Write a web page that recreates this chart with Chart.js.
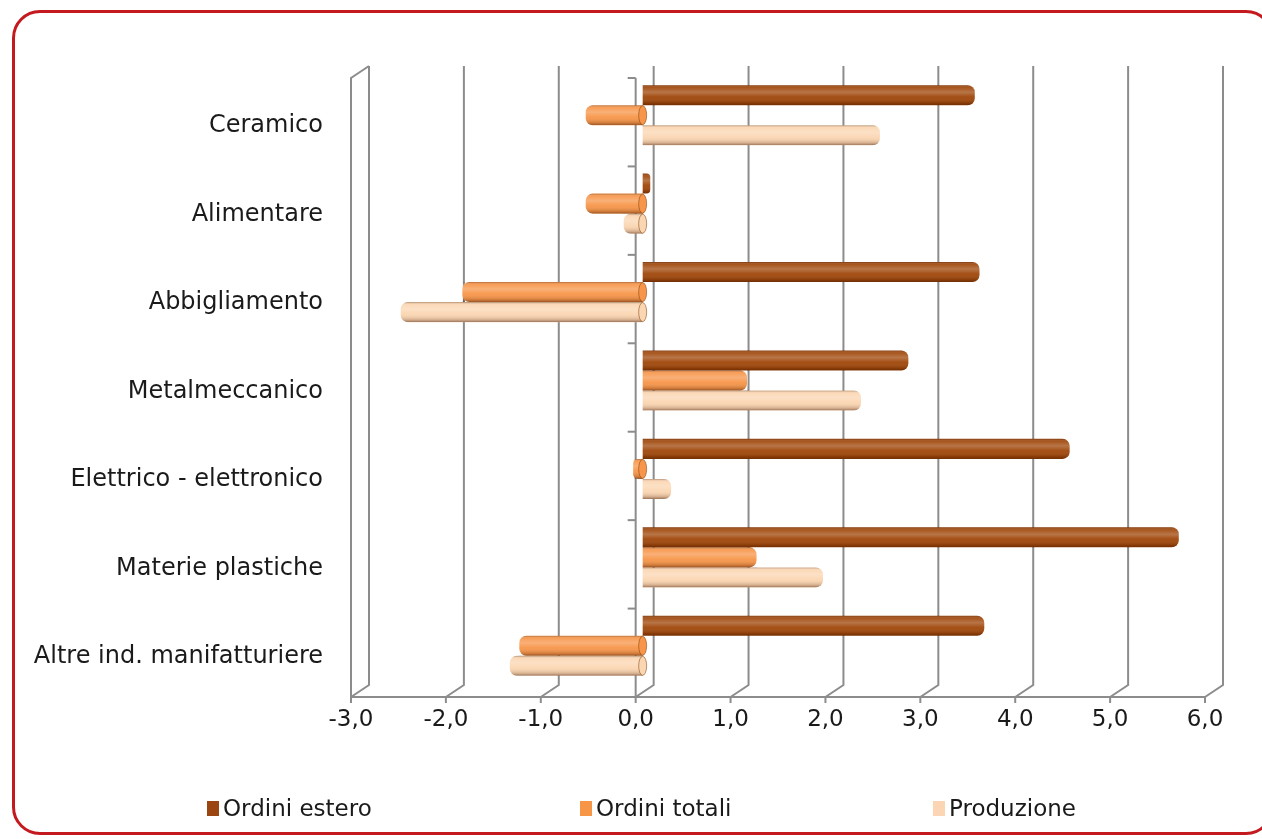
<!DOCTYPE html>
<html>
<head>
<meta charset="utf-8">
<script src="https://cdn.jsdelivr.net/npm/chart.js@4.4.1/dist/chart.umd.min.js"></script>
<style>
  html, body { margin: 0; padding: 0; background: #ffffff; width: 1262px; height: 839px; overflow: hidden; }
  #frame { position: absolute; left: 12px; top: 10px; width: 1262px; height: 825px; border: 3px solid #c41a1f; border-radius: 28px; box-sizing: border-box; }
  #wrap { position: absolute; left: 0; top: 0; width: 1262px; height: 839px; }
  #legend { position: absolute; top: 791px; left: 0; width: 1262px; height: 34px; font-family: 'DejaVu Sans', sans-serif; font-size: 23px; color: #1a1a1a; }
  .item { position: absolute; top: 0; display: flex; align-items: center; height: 34px; }
  .box { width: 12px; height: 15px; margin-right: 4px; }
</style>
</head>
<body>
<div id="frame"></div>
<div id="wrap"><canvas id="c" width="1262" height="839"></canvas></div>
<div id="legend"></div>
<script>
// ---- data ----
const categories = ['Ceramico', 'Alimentare', 'Abbigliamento', 'Metalmeccanico', 'Elettrico - elettronico', 'Materie plastiche', 'Altre ind. manifatturiere'];
const ordiniEstero = [3.5, 0.08, 3.55, 2.8, 4.5, 5.65, 3.6];
const ordiniTotali = [-0.6, -0.6, -1.9, 1.1, -0.1, 1.2, -1.3];
const produzione = [2.5, -0.2, -2.55, 2.3, 0.3, 1.9, -1.4];
const seriesNames = ['Ordini estero', 'Ordini totali', 'Produzione'];
const xTickValues = [-3, -2, -1, 0, 1, 2, 3, 4, 5, 6];

const seriesColors = ['#a0470a', '#f7964a', '#fbd6b2'];
const legendColors = ['#9b4510', '#f79646', '#fcd5b4'];
const FONT = "'DejaVu Sans', sans-serif";

// 3D depth offsets
const DEPTH_X = 18, DEPTH_Y = -12;
const BAR_DX = 7, BAR_DY = -7;
const GRID = '#8c8c8c';

const grid3d = {
  id: 'grid3d',
  beforeDatasetsDraw(chart) {
    const ctx = chart.ctx, xs = chart.scales.x, a = chart.chartArea;
    ctx.save();
    ctx.strokeStyle = GRID;
    ctx.lineWidth = 2;
    xTickValues.forEach(v => {
      const xf = xs.getPixelForValue(v);
      ctx.beginPath();
      ctx.moveTo(xf + DEPTH_X, a.top + DEPTH_Y);
      ctx.lineTo(xf + DEPTH_X, a.bottom + DEPTH_Y);
      ctx.lineTo(xf, a.bottom);
      ctx.stroke();
      ctx.beginPath();
      ctx.moveTo(xf, a.bottom);
      ctx.lineTo(xf, a.bottom + 6);
      ctx.stroke();
    });
    ctx.beginPath();
    ctx.moveTo(a.left, a.bottom);
    ctx.lineTo(a.right, a.bottom);
    ctx.stroke();
    ctx.beginPath();
    ctx.moveTo(a.left, a.bottom);
    ctx.lineTo(a.left, a.top);
    ctx.lineTo(a.left + DEPTH_X, a.top + DEPTH_Y);
    ctx.stroke();
    const x0 = xs.getPixelForValue(0);
    ctx.beginPath();
    ctx.moveTo(x0, a.top);
    ctx.lineTo(x0, a.bottom);
    ctx.stroke();
    const n = categories.length;
    for (let i = 0; i <= n; i++) {
      const y = a.top + i * (a.bottom - a.top) / n;
      ctx.beginPath();
      ctx.moveTo(x0 - 8, y);
      ctx.lineTo(x0, y);
      ctx.stroke();
    }
    ctx.restore();
    ctx.save();
    ctx.translate(BAR_DX, BAR_DY);
  },
  afterDatasetsDraw(chart) {
    const ctx = chart.ctx;
    chart.data.datasets.forEach((ds, di) => {
      const meta = chart.getDatasetMeta(di);
      meta.data.forEach(el => {
        const p = el.getProps(['x', 'y', 'base', 'height'], true);
        const top = p.y - p.height / 2;
        const left = Math.min(p.x, p.base) - 1, w = Math.abs(p.x - p.base) + 2;
        const g = ctx.createLinearGradient(0, top, 0, top + p.height);
        g.addColorStop(0, 'rgba(60,20,0,0.40)');
        g.addColorStop(0.12, 'rgba(255,255,255,0.08)');
        g.addColorStop(0.35, 'rgba(255,255,255,0.25)');
        g.addColorStop(0.6, 'rgba(255,255,255,0.04)');
        g.addColorStop(0.88, 'rgba(60,20,0,0.20)');
        g.addColorStop(1, 'rgba(60,20,0,0.50)');
        ctx.save();
        ctx.globalCompositeOperation = 'source-atop';
        ctx.fillStyle = g;
        ctx.fillRect(left, top, w, p.height);
        ctx.restore();
        if (p.x < p.base) {
          // visible cap at the zero end of negative bars
          ctx.save();
          ctx.fillStyle = ds.backgroundColor;
          ctx.strokeStyle = 'rgba(120,55,0,0.5)';
          ctx.lineWidth = 1;
          ctx.beginPath();
          ctx.ellipse(p.base, p.y, 4, p.height / 2 - 0.5, 0, 0, Math.PI * 2);
          ctx.fill();
          ctx.stroke();
          ctx.restore();
        }
      });
    });
    ctx.restore();
  }
};

const datasetsValues = [ordiniEstero, ordiniTotali, produzione];

new Chart(document.getElementById('c'), {
  type: 'bar',
  data: {
    labels: categories,
    datasets: seriesNames.map((name, i) => ({
      label: name,
      data: datasetsValues[i],
      backgroundColor: seriesColors[i],
      borderWidth: 0,
      borderRadius: 7,
      borderSkipped: 'start',
      categoryPercentage: 0.68,
      barPercentage: 1.0
    }))
  },
  options: {
    indexAxis: 'y',
    responsive: false,
    animation: false,
    devicePixelRatio: 1,
    layout: { padding: { top: 78, right: 57, bottom: 87, left: 0 } },
    plugins: { legend: { display: false }, tooltip: { enabled: false } },
    scales: {
      x: {
        type: 'linear',
        min: -3,
        max: 6,
        afterBuildTicks: (s) => { s.ticks = xTickValues.map(v => ({ value: v })); },
        afterFit: (s) => { s.height = 55; },
        grid: { display: false, drawTicks: false },
        border: { display: false },
        ticks: {
          padding: 9,
          color: '#1a1a1a',
          font: { family: FONT, size: 23 },
          callback: (v) => Number(v).toFixed(1).replace('.', ',')
        }
      },
      y: {
        type: 'category',
        afterFit: (s) => { s.width = 351; },
        grid: { display: false, drawTicks: false },
        border: { display: false },
        ticks: {
          padding: 28,
          labelOffset: 4,
          color: '#1a1a1a',
          font: { family: FONT, size: 24 }
        }
      }
    }
  },
  plugins: [grid3d]
});

const legendLefts = [207, 580, 933];
const lg = document.getElementById('legend');
seriesNames.forEach((name, i) => {
  const it = document.createElement('div');
  it.className = 'item';
  it.style.left = legendLefts[i] + 'px';
  const b = document.createElement('span');
  b.className = 'box';
  b.style.background = legendColors[i];
  const t = document.createElement('span');
  t.textContent = name;
  it.appendChild(b); it.appendChild(t);
  lg.appendChild(it);
});
</script>
</body>
</html>
